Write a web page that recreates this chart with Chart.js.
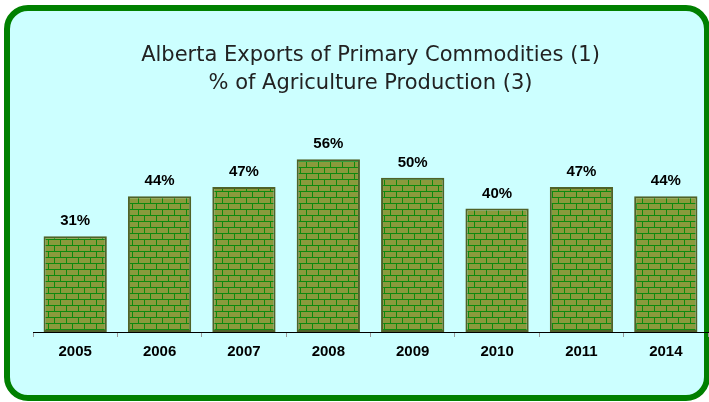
<!DOCTYPE html>
<html>
<head>
<meta charset="utf-8">
<script src="https://cdn.jsdelivr.net/npm/chart.js@4"></script>
<style>
  html, body { margin: 0; padding: 0; background: #fff; }
  #wrap { position: relative; width: 709px; height: 402px; overflow: hidden; }
  #frame {
    position: absolute; left: 4px; top: 5px; width: 706px; height: 396px;
    box-sizing: border-box; border: 6px solid #008000; border-radius: 24px;
    background: #ccffff;
  }
  #chart { position: absolute; left: 0; top: 0; }
</style>
</head>
<body>
<div id="wrap">
  <div id="frame"></div>
  <canvas id="chart" width="709" height="402"></canvas>
</div>
<script>
const years = ['2005', '2006', '2007', '2008', '2009', '2010', '2011', '2014'];
const shares = [31, 44, 47, 56, 50, 40, 47, 44];
const titleLines = ['Alberta Exports of Primary Commodities (1)', '% of Agriculture Production (3)'];

// brick fill
function brickPattern(ctx) {
  const c = document.createElement('canvas');
  c.width = 12; c.height = 12;
  const p = c.getContext('2d');
  p.fillStyle = '#0e8a0e';
  p.fillRect(0, 0, 12, 12);
  p.fillStyle = '#8a9a3c';
  p.fillRect(1, 0, 11, 5);
  p.fillRect(7, 6, 5, 5);
  p.fillRect(0, 6, 6, 5);
  return ctx.createPattern(c, 'repeat');
}

const valueLabels = {
  id: 'valueLabels',
  afterDatasetsDraw(chart) {
    const ctx = chart.ctx;
    const meta = chart.getDatasetMeta(0);
    ctx.save();
    ctx.font = 'bold 15px "Liberation Sans", Arial, sans-serif';
    ctx.fillStyle = '#000';
    ctx.textAlign = 'center';
    ctx.textBaseline = 'middle';
    meta.data.forEach((bar, i) => {
      ctx.fillText(shares[i] + '%', bar.x, bar.y - 15);
    });
    ctx.restore();
  }
};

const ctx = document.getElementById('chart').getContext('2d');
const chart = new Chart(ctx, {
  type: 'bar',
  data: {
    labels: years,
    datasets: [{
      data: shares,
      backgroundColor: brickPattern(ctx),
      borderColor: '#4f6228',
      borderWidth: 2,
      borderSkipped: false,
      barPercentage: 0.75,
      categoryPercentage: 1
    }]
  },
  options: {
    responsive: false,
    animation: false,
    devicePixelRatio: 1,
    layout: { padding: { left: 33, right: 1, top: 42, bottom: 35 } },
    plugins: {
      legend: { display: false },
      tooltip: { enabled: false },
      title: {
        display: true,
        text: titleLines,
        color: '#222',
        font: { family: '"DejaVu Sans", Verdana, sans-serif', size: 21, weight: 'normal', lineHeight: 1.333 },
        padding: { top: 0, bottom: 18 }
      }
    },
    scales: {
      x: {
        grid: { display: true, drawOnChartArea: false, offset: true, tickLength: 5, color: '#999' },
        border: { display: true, color: '#000', width: 1 },
        ticks: {
          color: '#000',
          padding: 6,
          font: { family: '"Liberation Sans", Arial, sans-serif', size: 15, weight: 'bold' }
        }
      },
      y: {
        display: false,
        min: 0,
        max: 70
      }
    }
  },
  plugins: [valueLabels]
});
</script>
</body>
</html>
